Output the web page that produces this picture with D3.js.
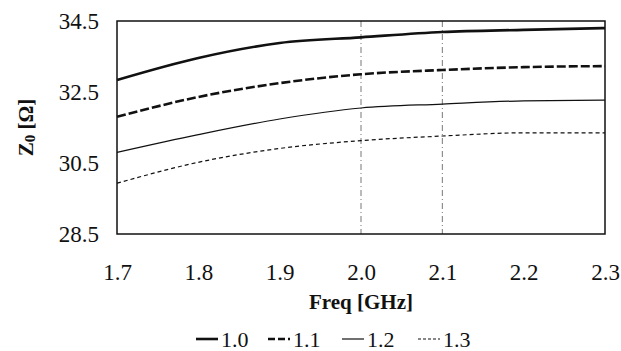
<!DOCTYPE html>
<html><head><meta charset="utf-8">
<script src="https://cdn.jsdelivr.net/npm/d3@7/dist/d3.min.js"></script>
<style>body{margin:0;background:#fff}svg{display:block}</style>
</head><body><svg id="c" width="621" height="351"></svg>
<script>
const freqs = [1.7, 1.8, 1.9, 2.0, 2.1, 2.2, 2.3];
const seriesNames = ["1.0", "1.1", "1.2", "1.3"];
const s10 = [32.84, 33.46, 33.88, 34.04, 34.19, 34.25, 34.30];
const s11 = [31.80, 32.36, 32.75, 33.00, 33.12, 33.20, 33.23];
const s12 = [30.80, 31.30, 31.74, 32.05, 32.16, 32.25, 32.27];
const s13 = [29.93, 30.52, 30.91, 31.13, 31.26, 31.35, 31.35];
const xTicks = [1.7, 1.8, 1.9, 2.0, 2.1, 2.2, 2.3];
const yTicks = [28.5, 30.5, 32.5, 34.5];
const gridFreqs = [2.0, 2.1];

const styles = [
  {w: 2.6, dash: null},
  {w: 2.6, dash: "9,3"},
  {w: 1.2, dash: null},
  {w: 1.2, dash: "4,3"}
];
const allSeries = [s10, s11, s12, s13];
const FONT = '"Liberation Serif", "Times New Roman", serif';

const svg = d3.select("#c");
const m = {l: 117, r: 605, t: 21, b: 234};
const x = d3.scaleLinear().domain([1.7, 2.3]).range([m.l, m.r]);
const y = d3.scaleLinear().domain([28.5, 34.5]).range([m.b, m.t]);

// gridlines
svg.append("g").selectAll("line").data(gridFreqs).join("line")
  .attr("x1", d => x(d)).attr("x2", d => x(d))
  .attr("y1", m.t).attr("y2", m.b)
  .attr("stroke", "#777").attr("stroke-width", 1).attr("stroke-dasharray", "6,3,1,3");

// axes (labels only)
const xAxis = svg.append("g").attr("transform", `translate(0,${m.b})`)
  .call(d3.axisBottom(x).tickValues(xTicks).tickFormat(d3.format(".1f")).tickSize(0).tickPadding(30));
const yAxis = svg.append("g").attr("transform", `translate(${m.l},0)`)
  .call(d3.axisLeft(y).tickValues(yTicks).tickFormat(d3.format(".1f")).tickSize(0).tickPadding(18));
[xAxis, yAxis].forEach(a => {
  a.select(".domain").remove();
  a.selectAll("text").style("font-family", FONT).style("font-size", "23px").attr("fill", "#111");
});

// frame
svg.append("rect").attr("x", m.l).attr("y", m.t).attr("width", m.r - m.l).attr("height", m.b - m.t)
  .attr("fill", "none").attr("stroke", "#111").attr("stroke-width", 1.5);

// lines
const line = d3.line().x((d, i) => x(freqs[i])).y(d => y(d)).curve(d3.curveMonotoneX);
allSeries.forEach((s, k) => {
  svg.append("path").datum(s).attr("d", line).attr("fill", "none")
    .attr("stroke", "#111").attr("stroke-width", styles[k].w)
    .attr("stroke-dasharray", styles[k].dash);
});

// axis titles
svg.append("text").attr("x", (m.l + m.r) / 2).attr("y", 309).attr("text-anchor", "middle")
  .style("font-family", FONT).style("font-weight", "bold").style("font-size", "21px").attr("fill", "#111")
  .text("Freq [GHz]");
const yt = svg.append("text").attr("transform", `translate(33,${(m.t + m.b) / 2}) rotate(-90)`)
  .attr("text-anchor", "middle").style("font-family", FONT).style("font-weight", "bold")
  .style("font-size", "21px").attr("fill", "#111");
yt.append("tspan").text("Z");
yt.append("tspan").style("font-size", "15px").attr("dy", 2).text("0");
yt.append("tspan").attr("dy", -2).text(" [Ω]");

// legend
const legX = [196, 268, 342, 418];
const lg = svg.append("g");
seriesNames.forEach((n, k) => {
  lg.append("line").attr("x1", legX[k]).attr("x2", legX[k] + 22).attr("y1", 339).attr("y2", 339)
    .attr("stroke", "#111").attr("stroke-width", styles[k].w)
    .attr("stroke-dasharray", k === 1 ? "7,3" : (k === 3 ? "3,2" : null));
  lg.append("text").attr("x", legX[k] + 25).attr("y", 347)
    .style("font-family", FONT).style("font-size", "22px").attr("fill", "#111").text(n);
});
</script></body></html>
